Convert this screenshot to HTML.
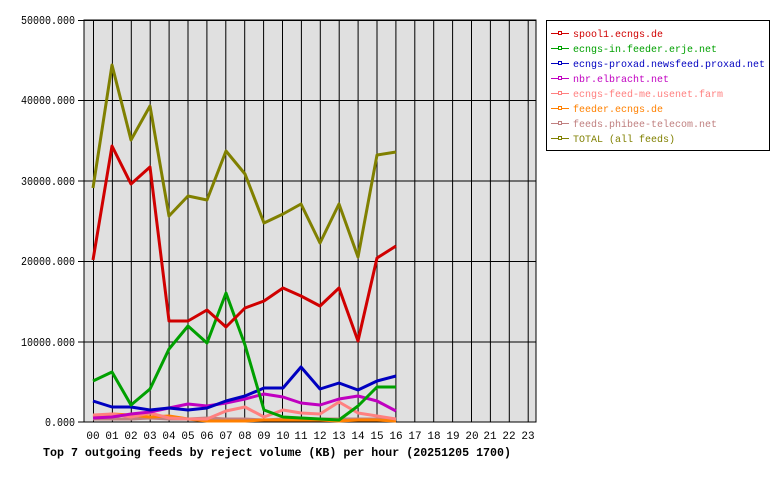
<!DOCTYPE html>
<html><head><style>body{margin:0;background:#fff}svg{display:block}text{font-family:"Liberation Mono","DejaVu Sans Mono",monospace}</style></head><body>
<svg width="780" height="480" xmlns="http://www.w3.org/2000/svg">
<rect x="84" y="20" width="452" height="402" fill="#e0e0e0" stroke="#000"/>
<g stroke="#000" stroke-width="1">
<path d="M93.5 20V422M112.4 20V422M131.3 20V422M150.2 20V422M169.1 20V422M188 20V422M206.9 20V422M225.8 20V422M244.7 20V422M263.6 20V422M282.5 20V422M301.4 20V422M320.3 20V422M339.2 20V422M358.1 20V422M377 20V422M395.9 20V422M414.8 20V422M433.7 20V422M452.6 20V422M471.5 20V422M490.4 20V422M509.3 20V422M528.2 20V422"/>
<path d="M78 20.5H536M78 100.5H536M78 181H536M78 261.5H536M78 342H536M78 422H536"/>
</g>
<g font-size="11.5" text-anchor="end" lengthAdjust="spacingAndGlyphs">
<text x="75" y="24" textLength="54" lengthAdjust="spacingAndGlyphs">50000.000</text><text x="75" y="104" textLength="54" lengthAdjust="spacingAndGlyphs">40000.000</text><text x="75" y="185" textLength="54" lengthAdjust="spacingAndGlyphs">30000.000</text><text x="75" y="265" textLength="54" lengthAdjust="spacingAndGlyphs">20000.000</text><text x="75" y="346" textLength="54" lengthAdjust="spacingAndGlyphs">10000.000</text><text x="75" y="426" textLength="30" lengthAdjust="spacingAndGlyphs">0.000</text>
</g>
<g font-size="11" text-anchor="middle">
<text x="93" y="439">00</text><text x="112" y="439">01</text><text x="131" y="439">02</text><text x="150" y="439">03</text><text x="169" y="439">04</text><text x="188" y="439">05</text><text x="207" y="439">06</text><text x="226" y="439">07</text><text x="245" y="439">08</text><text x="264" y="439">09</text><text x="283" y="439">10</text><text x="301" y="439">11</text><text x="320" y="439">12</text><text x="339" y="439">13</text><text x="358" y="439">14</text><text x="377" y="439">15</text><text x="396" y="439">16</text><text x="415" y="439">17</text><text x="434" y="439">18</text><text x="453" y="439">19</text><text x="472" y="439">20</text><text x="490" y="439">21</text><text x="509" y="439">22</text><text x="528" y="439">23</text>
</g>
<text x="43" y="456" font-size="12" font-weight="bold" textLength="468" lengthAdjust="spacingAndGlyphs">Top 7 outgoing feeds by reject volume (KB) per hour (20251205 1700)</text>
<g fill="none" stroke-width="3" stroke-linejoin="round">
<polyline stroke="#c08080" points="93,419 112,419 131,419 150,418 169,419 188,419 207,418 226,419 245,419 264,420 283,419 301,419 320,419 339,419 358,419 377,419 396,420"/>
<polyline stroke="#ff8000" points="93,417 112,414 131,415 150,417 169,416 188,419 207,421 226,421 245,421 264,420 283,420 301,420 320,420 339,421 358,420 377,420 396,421"/>
<polyline stroke="#ff8080" points="93,415 112,414 131,417 150,413 169,418 188,419 207,419 226,411 245,407 264,417 283,410 301,413 320,414 339,402 358,413 377,416 396,419"/>
<polyline stroke="#c000c0" points="93,418 112,417 131,414 150,412 169,408 188,404 207,406 226,403 245,399 264,394 283,397 301,403 320,405 339,399 358,396 377,401 396,411"/>
<polyline stroke="#0000c0" points="93,401 112,407 131,407 150,410 169,408 188,410 207,408 226,401 245,396 264,388 283,388 301,367 320,389 339,383 358,390 377,381 396,376"/>
<polyline stroke="#00a000" points="93,381 112,372 131,405 150,389 169,349 188,326 207,343 226,293 245,345 264,410 283,417 301,418 320,419 339,420 358,406 377,387 396,387"/>
<polyline stroke="#d00000" points="93,260 112,146 131,184 150,167 169,321 188,321 207,310 226,327 245,308 264,301 283,288 301,296 320,306 339,288 358,341 377,258 396,246"/>
<polyline stroke="#808000" points="93,188 112,65 131,140 150,106 169,216 188,196 207,200 226,151 245,174 264,223 283,214 301,204 320,243 339,204 358,257 377,155 396,152"/>
</g>
<rect x="546.5" y="20.5" width="223" height="130" fill="#fff" stroke="#000"/>
<g font-size="10.5">
<g stroke-width="1" fill="#fff">
<path d="M551 33.5H569" stroke="#d00000"/><rect x="558.5" y="31.5" width="3" height="3" stroke="#d00000"/>
<path d="M551 48.5H569" stroke="#00a000"/><rect x="558.5" y="46.5" width="3" height="3" stroke="#00a000"/>
<path d="M551 63.5H569" stroke="#0000c0"/><rect x="558.5" y="61.5" width="3" height="3" stroke="#0000c0"/>
<path d="M551 78.5H569" stroke="#c000c0"/><rect x="558.5" y="76.5" width="3" height="3" stroke="#c000c0"/>
<path d="M551 93.5H569" stroke="#ff8080"/><rect x="558.5" y="91.5" width="3" height="3" stroke="#ff8080"/>
<path d="M551 108.5H569" stroke="#ff8000"/><rect x="558.5" y="106.5" width="3" height="3" stroke="#ff8000"/>
<path d="M551 123.5H569" stroke="#c08080"/><rect x="558.5" y="121.5" width="3" height="3" stroke="#c08080"/>
<path d="M551 138.5H569" stroke="#808000"/><rect x="558.5" y="136.5" width="3" height="3" stroke="#808000"/>
</g>
<text x="573" y="37" fill="#d00000" textLength="90" lengthAdjust="spacingAndGlyphs">spool1.ecngs.de</text>
<text x="573" y="52" fill="#00a000" textLength="144" lengthAdjust="spacingAndGlyphs">ecngs-in.feeder.erje.net</text>
<text x="573" y="67" fill="#0000c0" textLength="192" lengthAdjust="spacingAndGlyphs">ecngs-proxad.newsfeed.proxad.net</text>
<text x="573" y="82" fill="#c000c0" textLength="96" lengthAdjust="spacingAndGlyphs">nbr.elbracht.net</text>
<text x="573" y="97" fill="#ff8080" textLength="150" lengthAdjust="spacingAndGlyphs">ecngs-feed-me.usenet.farm</text>
<text x="573" y="112" fill="#ff8000" textLength="90" lengthAdjust="spacingAndGlyphs">feeder.ecngs.de</text>
<text x="573" y="127" fill="#c08080" textLength="144" lengthAdjust="spacingAndGlyphs">feeds.phibee-telecom.net</text>
<text x="573" y="142" fill="#808000" textLength="102" lengthAdjust="spacingAndGlyphs">TOTAL (all feeds)</text>
</g>
</svg>
</body></html>
